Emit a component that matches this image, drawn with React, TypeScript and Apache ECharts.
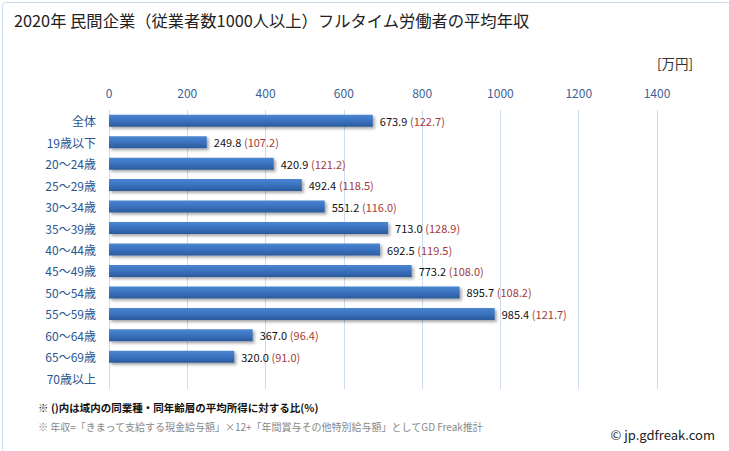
import React, { useEffect, useRef } from "react";
import * as echarts from "echarts";

const categories = ["全体", "19歳以下", "20〜24歳", "25〜29歳", "30〜34歳", "35〜39歳", "40〜44歳", "45〜49歳", "50〜54歳", "55〜59歳", "60〜64歳", "65〜69歳", "70歳以上"];
const incomes: (number | null)[] = [673.9, 249.8, 420.9, 492.4, 551.2, 713.0, 692.5, 773.2, 895.7, 985.4, 367.0, 320.0, null];
const ratios: (number | null)[] = [122.7, 107.2, 121.2, 118.5, 116.0, 128.9, 119.5, 108.0, 108.2, 121.7, 96.4, 91.0, null];
const titleText = "2020年 民間企業（従業者数1000人以上）フルタイム労働者の平均年収";
const unitText = "[万円]";
const note1 = "※ ()内は域内の同業種・同年齢層の平均所得に対する比(%)";
const note2 = "※ 年収=「きまって支給する現金給与額」×12+「年間賞与その他特別給与額」としてGD Freak推計";
const credit = "© jp.gdfreak.com";

const FONT = "'Noto Sans CJK JP', 'Noto Sans', sans-serif";

export default function App() {
  const ref = useRef<HTMLDivElement>(null);
  useEffect(() => {
    if (!ref.current) return;
    const chart = echarts.init(ref.current, null, { renderer: "svg" });
    chart.setOption({
      animation: false,
      backgroundColor: "#ffffff",
      textStyle: { fontFamily: FONT },
      grid: { left: 109, right: 72, top: 110, bottom: 62 },
      xAxis: {
        type: "value",
        position: "top",
        min: 0,
        max: 1400,
        interval: 200,
        axisLine: { show: false },
        axisTick: { show: false },
        axisLabel: {
          color: "#3b5f98",
          fontSize: 12,
          margin: 12,
          fontFamily: FONT,
          formatter: (v: number) => String(v),
        },
        splitLine: { lineStyle: { color: "#cddcee", width: 1 } },
      },
      yAxis: {
        type: "category",
        inverse: true,
        data: categories,
        axisLine: { show: false },
        axisTick: { show: false },
        axisLabel: { color: "#2a5592", fontSize: 12, margin: 13, fontFamily: FONT },
      },
      series: [
        {
          type: "bar",
          data: incomes.map((v, i) => ({ value: v, ratio: ratios[i] })),
          barWidth: 12,
          itemStyle: {
            color: new echarts.graphic.LinearGradient(0, 0, 0, 1, [
              { offset: 0, color: "#4a86d0" },
              { offset: 0.5, color: "#3a72bf" },
              { offset: 1, color: "#2b5a9c" },
            ]),
            shadowColor: "rgba(0,0,0,0.35)",
            shadowBlur: 3,
            shadowOffsetX: 2,
            shadowOffsetY: 2,
          },
          label: {
            show: true,
            position: "right",
            distance: 7,
            fontFamily: FONT,
            formatter: (p: any) => {
              const i = p.dataIndex;
              if (incomes[i] == null) return "";
              return `{v|${(incomes[i] as number).toFixed(1)}} {r|(${(ratios[i] as number).toFixed(1)})}`;
            },
            rich: {
              v: { color: "#111111", fontSize: 11, fontFamily: FONT },
              r: { color: "#a33a3a", fontSize: 11, fontFamily: FONT },
            },
          },
        },
      ],
      graphic: [
        {
          type: "rect",
          left: 0,
          top: 0,
          shape: { x: 0.5, y: 0.5, width: 728, height: 450, r: 3 },
          style: { fill: "none", stroke: "#c9dbef", lineWidth: 1 },
          silent: true,
        },
        {
          type: "text",
          left: 14,
          top: 12,
          style: { text: titleText, fontSize: 16.3, fill: "#222222", fontFamily: FONT },
        },
        {
          type: "text",
          left: 657,
          top: 56,
          style: { text: unitText, fontSize: 13.5, fill: "#333333", fontFamily: FONT },
        },
        {
          type: "text",
          left: 38,
          top: 402,
          style: { text: note1, fontSize: 10.5, fontWeight: "bold", fill: "#111111", fontFamily: FONT },
        },
        {
          type: "text",
          left: 38,
          top: 421,
          style: { text: note2, fontSize: 10, fill: "#888888", fontFamily: FONT },
        },
        {
          type: "text",
          right: 14,
          top: 428,
          style: { text: credit, fontSize: 13, fill: "#222222", fontFamily: FONT },
        },
      ],
    });
    return () => chart.dispose();
  }, []);
  return (
    <div
      ref={ref}
      style={{ position: "fixed", left: 0, top: 0, width: 729, height: 451 }}
    />
  );
}
